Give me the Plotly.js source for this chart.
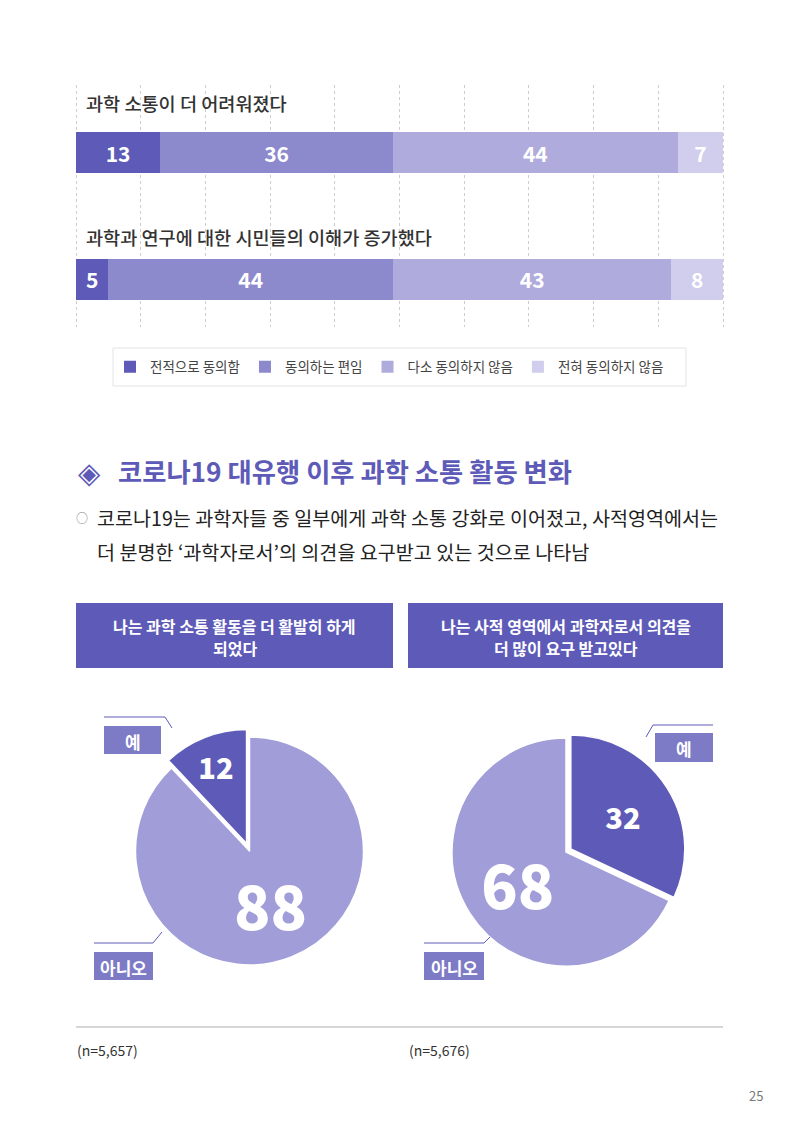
<!DOCTYPE html>
<html>
<head>
<meta charset="utf-8">
<script src="https://cdn.plot.ly/plotly-3.0.1.min.js"></script>
<style>
  html, body { margin: 0; padding: 0; background: #ffffff; }
  #chart { width: 800px; height: 1132px; }
</style>
</head>
<body>
<div id="chart"></div>
<script>
// ---- data -------------------------------------------------------------
const statements = ['과학 소통이 더 어려워졌다', '과학과 연구에 대한 시민들의 이해가 증가했다'];
const responseLabels = ['전적으로 동의함', '동의하는 편임', '다소 동의하지 않음', '전혀 동의하지 않음'];
const stronglyAgree    = [13, 5];
const somewhatAgree    = [36, 44];
const somewhatDisagree = [44, 43];
const stronglyDisagree = [7, 8];

const pieLabels   = ['예', '아니오'];
const moreActive  = [12, 88];   // 나는 과학 소통 활동을 더 활발히 하게 되었다
const moreAsked   = [32, 68];   // 나는 사적 영역에서 과학자로서 의견을 더 많이 요구 받고있다
const pieTitles   = [['나는 과학 소통 활동을 더 활발히 하게', '되었다'],
                     ['나는 사적 영역에서 과학자로서 의견을', '더 많이 요구 받고있다']];
const sampleSizes = ['(n=5,657)', '(n=5,676)'];

const headingText = '코로나19 대유행 이후 과학 소통 활동 변화';
const bodyLines = ['코로나19는 과학자들 중 일부에게 과학 소통 강화로 이어졌고, 사적영역에서는',
                   '더 분명한 ‘과학자로서’의 의견을 요구받고 있는 것으로 나타남'];
const pageNumber = '25';

// ---- styling ------------------------------------------------------------
const W = 800, H = 1132;
const FONT = '"Noto Sans CJK KR", "Noto Sans", sans-serif';
const barColors = ['#5d5ab8', '#8c89cd', '#afacdd', '#d0ceec'];
const pieColors = ['#5d5ab8', '#a09dd8'];
const calloutColor = '#7d7ac6';
const px = x => x / W;
const py = y => 1 - y / H;
const sum = a => a.reduce((s, v) => s + v, 0);

// ---- stacked bars -------------------------------------------------------
const seriesValues = [stronglyAgree, somewhatAgree, somewhatDisagree, stronglyDisagree];
const barTraces = seriesValues.map((vals, i) => ({
  type: 'bar',
  orientation: 'h',
  name: responseLabels[i],
  x: vals,
  y: statements,
  width: 0.324,
  marker: { color: barColors[i], line: { width: 0 } },
  text: vals.map(String),
  textposition: 'inside',
  insidetextanchor: 'middle',
  textangle: 0,
  constraintext: 'none',
  textfont: { family: FONT, size: 21, color: '#ffffff', weight: 700 },
  hoverinfo: 'skip',
  xaxis: 'x', yaxis: 'y'
}));

// ---- pies ---------------------------------------------------------------
function pieDomain(cx, cy, r, pull) {
  const half = r * (1 + pull);
  return { x: [px(cx - half), px(cx + half)], y: [py(cy + half), py(cy - half)] };
}
// first chart: the '예' slice ends at 12 o'clock, second chart: it starts there
const pie1 = {
  type: 'pie', values: moreActive, labels: pieLabels, sort: false,
  direction: 'clockwise', rotation: -360 * moreActive[0] / sum(moreActive),
  pull: [0.07, 0],
  domain: pieDomain(249.5, 851, 114, 0.07),
  marker: { colors: pieColors, line: { color: '#ffffff', width: 1.5 } },
  texttemplate: '%{value}', textposition: 'inside', insidetextorientation: 'horizontal',
  textfont: { family: FONT, size: [29, 60], color: '#ffffff', weight: 900 },
  showlegend: false, hoverinfo: 'skip'
};
const pie2 = {
  type: 'pie', values: moreAsked, labels: pieLabels, sort: false,
  direction: 'clockwise', rotation: 0,
  pull: [0.05, 0],
  domain: pieDomain(566, 852, 114, 0.05),
  marker: { colors: pieColors, line: { color: '#ffffff', width: 1.5 } },
  texttemplate: '%{value}', textposition: 'inside', insidetextorientation: 'horizontal',
  textfont: { family: FONT, size: [29, 60], color: '#ffffff', weight: 900 },
  showlegend: false, hoverinfo: 'skip'
};

// ---- page decorations ---------------------------------------------------
const shapes = [];
const annotations = [];

function text(t, x, y, opts) {
  annotations.push(Object.assign({
    text: t, x: px(x), y: py(y), xref: 'paper', yref: 'paper',
    showarrow: false, xanchor: 'left', yanchor: 'middle',
    font: { family: FONT, size: 16, color: '#333333' }
  }, opts || {}));
}
function rect(x0, y0, x1, y1, color, border) {
  shapes.push({ type: 'rect', xref: 'paper', yref: 'paper',
    x0: px(x0), x1: px(x1), y0: py(y1), y1: py(y0),
    fillcolor: color, line: border || { width: 0 }, layer: 'above' });
}
function polyline(pts, color, width) {
  const d = pts.map((p, i) => (i ? 'L' : 'M') + px(p[0]) + ',' + py(p[1])).join(' ');
  shapes.push({ type: 'path', xref: 'paper', yref: 'paper', path: d,
    line: { color: color, width: width }, layer: 'above' });
}

// statement captions above each bar
const captionFont = { family: FONT, size: 18.6, color: '#333333', weight: 500 };
text(statements[0], 84, 103, { font: captionFont });
text(statements[1], 84, 236, { font: captionFont });

// legend frame
rect(113, 348, 686, 386, 'rgba(0,0,0,0)', { color: '#e3e3e3', width: 1 });

// section heading
text('◈', 89, 470, { xanchor: 'center', font: { family: FONT, size: 29, color: '#5d5ab8' } });
text(headingText, 116, 470, { font: { family: FONT, size: 26.3, color: '#5d5ab8', weight: 700 } });

// body text
text('○', 82, 518, { xanchor: 'center', font: { family: FONT, size: 12, color: '#888888' } });
text(bodyLines[0], 95, 517, { font: { family: FONT, size: 19.6, color: '#222222' } });
text(bodyLines[1], 95, 551, { font: { family: FONT, size: 19.6, color: '#222222' } });

// pie headers
rect(76, 603, 393, 668, '#5d5ab8');
rect(408, 603, 723, 668, '#5d5ab8');
const headerFont = { family: FONT, size: 16, color: '#ffffff', weight: 700 };
[[234.5, pieTitles[0]], [565.5, pieTitles[1]]].forEach(([cx, lines]) => {
  text(lines[0], cx, 626, { xanchor: 'center', font: headerFont });
  text(lines[1], cx, 648, { xanchor: 'center', font: headerFont });
});

// callouts
function callout(label, x0, y0, x1, y1, leader) {
  rect(x0, y0, x1, y1, calloutColor);
  text(label, (x0 + x1) / 2, (y0 + y1) / 2 + 1, { xanchor: 'center',
    font: { family: FONT, size: 17, color: '#ffffff', weight: 700 } });
  polyline(leader, '#5d5ab8', 1);
}
callout(pieLabels[0], 104, 726, 161, 754, [[104, 717], [165, 717], [172, 728]]);
callout(pieLabels[1], 94, 952, 153, 980, [[94, 943], [153, 943], [162, 932]]);
callout(pieLabels[0], 655, 733, 713, 762, [[713, 725], [653, 725], [646, 737]]);
callout(pieLabels[1], 424, 952, 484, 980, [[424, 943], [484, 943], [490, 937]]);

// footer
shapes.push({ type: 'line', xref: 'paper', yref: 'paper',
  x0: px(76), x1: px(723), y0: py(1027), y1: py(1027),
  line: { color: '#c8c8c8', width: 1.5 } });
text(sampleSizes[0], 75, 1050, { font: { family: FONT, size: 14, color: '#333333' } });
text(sampleSizes[1], 407, 1050, { font: { family: FONT, size: 14, color: '#333333' } });
text(pageNumber, 765, 1095, { xanchor: 'right', font: { family: FONT, size: 13, color: '#777777' } });

// ---- layout -------------------------------------------------------------
// the x range is padded slightly (and the domain widened to match) so the
// 0% and 100% gridlines are drawn as well
const pad = 0.4;
const pxPerUnit = (723 - 76) / 100;
const layout = {
  width: W, height: H,
  margin: { l: 0, r: 0, t: 0, b: 0 },
  paper_bgcolor: '#ffffff', plot_bgcolor: 'rgba(0,0,0,0)',
  barmode: 'stack',
  bargap: 0,
  font: { family: FONT },
  xaxis: {
    domain: [px(76 - pad * pxPerUnit), px(723 + pad * pxPerUnit)], range: [-pad, 100 + pad],
    dtick: 10, tick0: 0,
    showgrid: true, gridcolor: '#cdcdcd', griddash: 'dot', gridwidth: 1,
    zeroline: false, showline: false, showticklabels: false, ticks: '', fixedrange: true
  },
  yaxis: {
    domain: [py(327), py(85)], type: 'category', categoryarray: statements,
    range: [1.375, -0.535],
    showgrid: false, zeroline: false, showline: false, showticklabels: false, ticks: '', fixedrange: true
  },
  showlegend: true,
  legend: {
    orientation: 'h', traceorder: 'normal',
    x: px(110), y: py(367), xanchor: 'left', yanchor: 'middle',
    bgcolor: 'rgba(0,0,0,0)', borderwidth: 0,
    font: { family: FONT, size: 13.5, color: '#444444' },
    itemwidth: 30, itemclick: false, itemdoubleclick: false
  },
  shapes: shapes,
  annotations: annotations
};

Plotly.newPlot('chart', barTraces.concat([pie1, pie2]), layout, { displayModeBar: false, staticPlot: true });
</script>
</body>
</html>
